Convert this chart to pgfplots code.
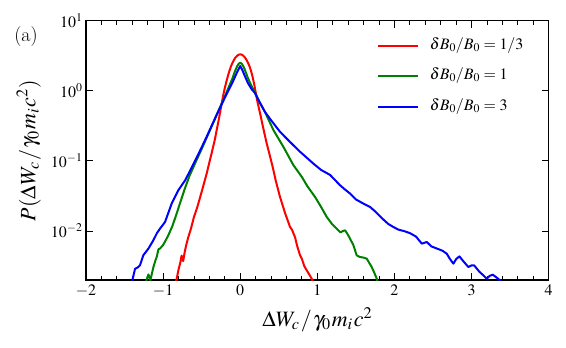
\documentclass[border=0pt]{standalone}
\usepackage{mathptmx}
\usepackage{pgfplots}
\usepackage{pgfplotstable}
\pgfplotsset{compat=1.18}
\pgfplotstableread{
x lp
-0.85 -2.80
-0.824 -2.68
-0.80 -2.55
-0.775 -2.44
-0.76 -2.35
-0.74 -2.43
-0.72 -2.30
-0.70 -2.20
-0.673 -2.086
-0.64 -1.97
-0.60 -1.80
-0.556 -1.657
-0.50 -1.44
-0.47 -1.32
-0.435 -1.18
-0.40 -1.02
-0.36 -0.84
-0.33 -0.70
-0.30 -0.53
-0.28 -0.42
-0.25 -0.24
-0.22 -0.06
-0.20 0.04
-0.18 0.13
-0.16 0.21
-0.14 0.285
-0.12 0.35
-0.10 0.40
-0.08 0.443
-0.06 0.477
-0.04 0.50
-0.02 0.515
0 0.52
0.02 0.515
0.04 0.50
0.06 0.477
0.08 0.443
0.10 0.40
0.12 0.35
0.14 0.285
0.16 0.20
0.18 0.10
0.20 -0.02
0.22 -0.14
0.257 -0.32
0.30 -0.54
0.343 -0.75
0.39 -0.95
0.43 -1.13
0.46 -1.28
0.516 -1.514
0.58 -1.74
0.646 -1.943
0.67 -1.98
0.71 -2.086
0.74 -2.22
0.776 -2.347
0.80 -2.40
0.83 -2.50
0.862 -2.56
0.90 -2.63
0.927 -2.68
0.96 -2.80
}\red
\pgfplotstableread{
x lp
-1.24 -2.80
-1.21 -2.68
-1.19 -2.62
-1.165 -2.70
-1.15 -2.63
-1.127 -2.52
-1.10 -2.42
-1.083 -2.37
-1.06 -2.26
-1.04 -2.25
-1.00 -2.20
-0.97 -2.14
-0.932 -2.06
-0.88 -1.93
-0.824 -1.75
-0.78 -1.60
-0.72 -1.40
-0.66 -1.22
-0.60 -1.07
-0.50 -0.83
-0.40 -0.58
-0.30 -0.33
-0.20 -0.08
-0.15 0.05
-0.10 0.18
-0.08 0.245
-0.06 0.30
-0.04 0.35
-0.02 0.385
0 0.40
0.02 0.385
0.04 0.35
0.06 0.30
0.08 0.24
0.10 0.18
0.15 0.06
0.19 -0.02
0.25 -0.16
0.32 -0.30
0.43 -0.56
0.56 -0.80
0.689 -1.06
0.80 -1.23
0.87 -1.36
0.97 -1.514
1.05 -1.66
1.122 -1.80
1.19 -1.90
1.25 -1.966
1.30 -2.02
1.33 -2.00
1.36 -1.99
1.40 -2.06
1.467 -2.20
1.51 -2.347
1.55 -2.37
1.60 -2.38
1.64 -2.394
1.705 -2.514
1.74 -2.60
1.77 -2.68
1.80 -2.80
}\green
\pgfplotstableread{
x lp
-1.42 -2.80
-1.394 -2.68
-1.364 -2.54
-1.33 -2.52
-1.30 -2.49
-1.257 -2.347
-1.19 -2.25
-1.127 -2.133
-1.08 -2.03
-1.04 -1.966
-0.975 -1.871
-0.889 -1.609
-0.803 -1.419
-0.716 -1.279
-0.65 -1.14
-0.55 -0.92
-0.456 -0.704
-0.40 -0.57
-0.30 -0.33
-0.20 -0.10
-0.10 0.12
-0.06 0.22
-0.03 0.29
0 0.353
0.03 0.29
0.06 0.21
0.10 0.11
0.15 0.02
0.19 -0.03
0.25 -0.16
0.32 -0.30
0.40 -0.42
0.516 -0.585
0.646 -0.73
0.776 -0.87
0.95 -1.04
1.05 -1.13
1.165 -1.20
1.294 -1.347
1.35 -1.40
1.424 -1.466
1.50 -1.55
1.597 -1.609
1.683 -1.657
1.75 -1.72
1.85 -1.83
1.92 -1.90
1.986 -1.943
2.05 -1.98
2.12 -2.00
2.20 -2.03
2.28 -2.08
2.354 -2.18
2.419 -2.157
2.48 -2.22
2.549 -2.25
2.62 -2.28
2.678 -2.323
2.72 -2.40
2.764 -2.466
2.80 -2.40
2.842 -2.362
2.90 -2.44
2.959 -2.514
3.00 -2.49
3.033 -2.49
3.10 -2.58
3.15 -2.63
3.197 -2.68
3.235 -2.64
3.275 -2.623
3.32 -2.66
3.37 -2.704
3.42 -2.78
}\blue
\begin{document}
\begin{tikzpicture}
\path[use as bounding box] (0,0) rectangle (566bp,348bp);
\begin{axis}[
  at={(86bp,68bp)}, anchor=south west,
  scale only axis, width=462.7bp, height=259.3bp,
  xmin=-2, xmax=4, ymin=2e-3, ymax=10, ymode=log, log basis y=10,
  xtick={-2,-1,0,1,2,3,4}, minor x tick num=4,
  ytick={1e-2,1e-1,1,10},
  xtick pos=both, ytick pos=both, tick align=inside,
  major tick length=7bp, minor tick length=4bp,
  axis line style={line width=1.1bp},
  every tick/.style={black, line width=0.9bp},
  tick label style={font=\fontsize{16}{19}\selectfont},
  xticklabel style={yshift=-1bp},
  xlabel={$\Delta W_c\mkern1mu/\mkern1mu\gamma_0\mkern1mu m_i\mkern1mu c^2$},
  ylabel={$P(\Delta W_c\mkern1mu/\mkern1mu\gamma_0\mkern1mu m_i\mkern1mu c^2\mkern1mu)$},
  xlabel style={font=\fontsize{22}{26}\selectfont, at={(axis description cs:0.5,-0.180)}, anchor=base},
  ylabel style={font=\fontsize{22}{26}\selectfont, at={(axis description cs:-0.124,0.5)}, anchor=center},
  legend cell align=left,
  legend image code/.code={\draw[#1] (0bp,0bp) -- (40bp,0bp); \path (49bp,0bp);},
  legend style={draw=none, fill=none, at={(axis description cs:0.622,0.953)}, anchor=north west,
    font=\fontsize{16}{19}\selectfont, row sep=9.5bp,
    nodes={text height=11bp, text depth=4bp, inner ysep=3bp}},
  every axis plot/.append style={line width=2bp, line join=round},
]
\addplot[red, no marks] table[x=x, y expr={10^(\thisrow{lp})}] {\red};
\addlegendentry{$\delta B_0/B_0=1/3$}
\addplot[green!50!black, no marks] table[x=x, y expr={10^(\thisrow{lp})}] {\green};
\addlegendentry{$\delta B_0/B_0=1$}
\addplot[blue, no marks] table[x=x, y expr={10^(\thisrow{lp})}] {\blue};
\addlegendentry{$\delta B_0/B_0=3$}
\end{axis}
\node[font=\fontsize{20}{24}\selectfont] at (26bp,311.5bp) {(a)};
\end{tikzpicture}
\end{document}
